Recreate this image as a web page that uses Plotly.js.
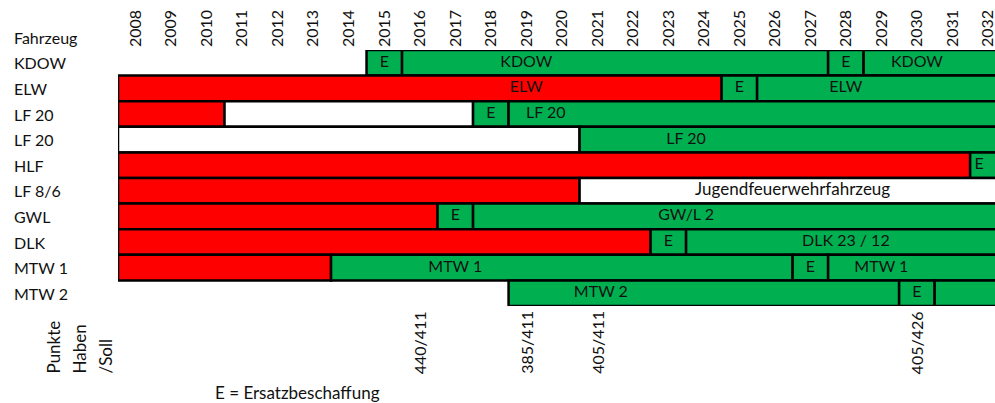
<!DOCTYPE html>
<html>
<head>
<meta charset="utf-8">
<script src="https://cdn.plot.ly/plotly-3.0.1.min.js"></script>
<style>html,body{margin:0;padding:0;background:#fff;}#chart{width:995px;height:403px;}</style>
</head>
<body>
<div id="chart"></div>
<script>
// ---- data ----
var vehicles = ["KDOW", "ELW", "LF 20", "LF 20", "HLF", "LF 8/6", "GWL", "DLK", "MTW 1", "MTW 2"];
var years = [2008,2009,2010,2011,2012,2013,2014,2015,2016,2017,2018,2019,2020,2021,2022,2023,2024,2025,2026,2027,2028,2029,2030,2031,2032];

// segments: row index, start year, end year (exclusive), state
var segRow   = [0,0,0,0, 1,1,1, 2,2,2,2, 3,3, 4,4, 5,5, 6,6,6, 7,7,7, 8,8,8,8, 9,9,9];
var segStart = [2015,2016,2028,2029, 2008,2025,2026, 2008,2011,2018,2019, 2008,2021, 2008,2032, 2008,2021, 2008,2017,2018, 2008,2023,2024, 2008,2014,2027,2028, 2019,2030,2031];
var segEnd   = [2016,2028,2029,2033, 2025,2026,2033, 2011,2018,2019,2033, 2021,2033, 2032,2033, 2021,2033, 2017,2018,2033, 2023,2024,2033, 2014,2027,2028,2033, 2030,2031,2033];
var segState = ["new","new","new","new", "old","new","new", "old","none","new","new", "none","new", "old","new", "old","none", "old","new","new", "old","new","new", "old","new","new","new", "new","new","new"];

// labels inside bars
var lblRow  = [0,0,0,0, 1,1,1, 2,2, 3, 4, 5, 6,6, 7,7, 8,8,8, 9,9];
var lblYear = [2015.5,2019.5,2028.5,2030.5, 2019.5,2025.5,2028.5, 2018.5,2020.05, 2024.0, 2032.25, 2027.0, 2017.5,2024.0, 2023.5,2028.5, 2017.5,2027.5,2029.5, 2021.6,2030.5];
var lblText = ["E","KDOW","E","KDOW", "ELW","E","ELW", "E","LF 20", "LF 20", "E", "Jugendfeuerwehrfahrzeug", "E","GW/L 2", "E","DLK 23 / 12", "MTW 1","E","MTW 1", "MTW 2","E"];

// points Haben/Soll
var scoreYear = [2016.5, 2019.5, 2021.5, 2030.5];
var scoreText = ["440/411", "385/411", "405/411", "405/426"];

var stateColor = {old: "#FF0000", "new": "#00B050", none: "#FFFFFF"};

// ---- build ----
var FONT = "Lato, 'Open Sans', sans-serif";
var TXT = "#111";
var barTrace = {
  type: "bar", orientation: "h",
  y: segRow,
  base: segStart,
  x: segEnd.map(function(e, i){ return e - segStart[i]; }),
  width: 1,
  marker: {color: segState.map(function(s){ return stateColor[s]; }), line: {color: "#000", width: 2.5}},
  hoverinfo: "skip", showlegend: false
};
var textTrace = {
  type: "scatter", mode: "text",
  x: lblYear, y: lblRow, text: lblText,
  textfont: {family: FONT, size: lblText.map(function(t){ return t.length > 12 ? 17 : 16; }), color: TXT},
  hoverinfo: "skip", showlegend: false, cliponaxis: false
};

var annotations = [];
annotations.push({xref: "paper", yref: "paper", x: -106/877, y: 1 + 12.5/256, xanchor: "left", yanchor: "middle",
  text: "Fahrzeug", showarrow: false, font: {family: FONT, size: 16, color: TXT}});
vehicles.forEach(function(v, i){
  annotations.push({xref: "paper", yref: "y", x: -106/877, y: i, xanchor: "left", yanchor: "middle",
    text: v, showarrow: false, font: {family: FONT, size: 16, color: TXT}});
});
var sideLbl = ["Punkte", "Haben", "/Soll"];
var sidePx = [53, 79, 105];
sideLbl.forEach(function(t, i){
  annotations.push({xref: "paper", yref: "paper", x: (sidePx[i]-118)/877, y: -70/256, xanchor: "center", yanchor: "bottom",
    textangle: -90, text: t, showarrow: false, font: {family: FONT, size: 17, color: TXT}});
});
scoreYear.forEach(function(yr, i){
  annotations.push({xref: "x", yref: "paper", x: yr, y: -70/256, xanchor: "center", yanchor: "bottom",
    textangle: -90, text: scoreText[i], showarrow: false, font: {family: FONT, size: 16, color: TXT}});
});
annotations.push({xref: "paper", yref: "paper", x: (297-118)/877, y: -86/256, xanchor: "center", yanchor: "middle",
  text: "E = Ersatzbeschaffung", showarrow: false, font: {family: FONT, size: 17, color: TXT}});

var layout = {
  width: 995, height: 403,
  margin: {l: 118, r: 0, t: 50, b: 97, pad: 0},
  paper_bgcolor: "#fff", plot_bgcolor: "#fff",
  barmode: "overlay",
  showlegend: false,
  xaxis: {
    range: [2008, 2032.7], side: "top",
    tickmode: "array",
    tickvals: years.map(function(y){ return y + 0.5; }),
    ticktext: years.map(String),
    tickangle: -90,
    ticklabeloverflow: "allow",
    ticklabelstandoff: 2,
    tickfont: {family: FONT, size: 16, color: TXT},
    ticks: "", showgrid: false, zeroline: false, showline: false, fixedrange: true
  },
  yaxis: {
    range: [9.5, -0.5], showticklabels: false, ticks: "",
    showgrid: false, zeroline: false, showline: false, fixedrange: true
  },
  annotations: annotations
};

Plotly.newPlot("chart", [barTrace, textTrace], layout, {displayModeBar: false, staticPlot: true});
</script>
</body>
</html>
